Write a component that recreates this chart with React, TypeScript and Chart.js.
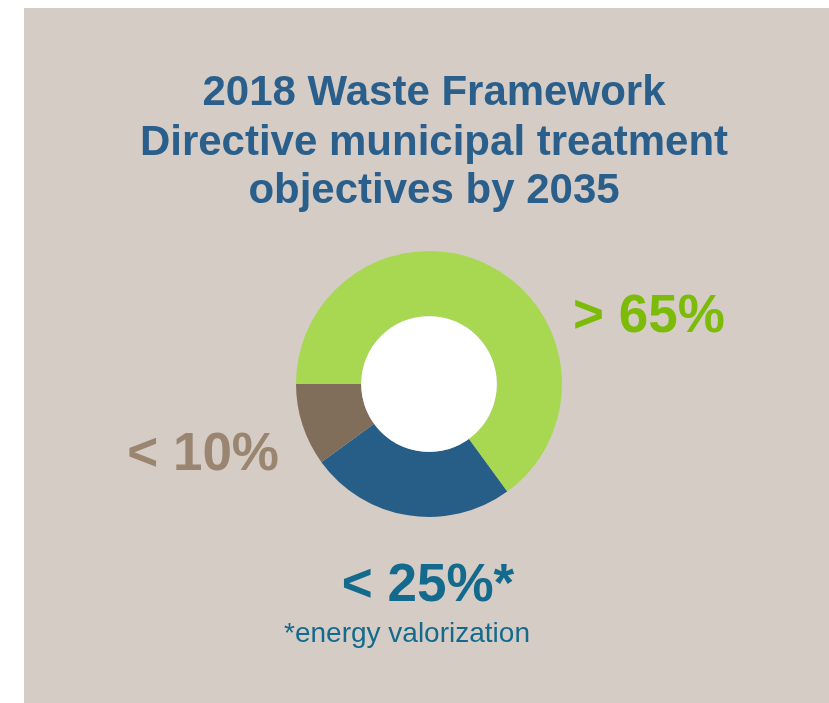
import React, { useEffect, useRef } from "react";
import { Chart, registerables } from "chart.js";

Chart.register(...registerables);

const categories = ["Recycling", "Energy valorization", "Landfill"];
const values = [65, 25, 10];
const sliceColors = ["#a8d851", "#265e87", "#806e5a"];
const valueLabels = ["> 65%", "< 25%*", "< 10%"];
const labelColors = ["#7cbc08", "#136a8c", "#9a8570"];
const titleLines = ["2018 Waste Framework", "Directive municipal treatment", "objectives by 2035"];
const footnote = "*energy valorization";

const FONT = '"Liberation Sans", Arial, sans-serif';

const textPlugin = {
  id: "textPlugin",
  afterDatasetsDraw(chart: any) {
    const ctx = chart.ctx;
    const meta = chart.getDatasetMeta(0);
    const arc = meta.data[0];
    if (!arc) return;
    const cx = arc.x;
    const cy = arc.y;
    const inner = arc.innerRadius;
    ctx.save();
    // white hole
    ctx.beginPath();
    ctx.arc(cx, cy, inner, 0, Math.PI * 2);
    ctx.fillStyle = "#ffffff";
    ctx.fill();

    // title
    ctx.fillStyle = "#2b5f8b";
    ctx.font = `bold 42px ${FONT}`;
    ctx.textAlign = "center";
    ctx.textBaseline = "alphabetic";
    const tx = cx + 5;
    const baselines = [97, 147, 195];
    titleLines.forEach((l, i) => ctx.fillText(l, tx, baselines[i]));

    // value labels
    ctx.font = `bold 53px ${FONT}`;
    ctx.fillStyle = labelColors[0];
    ctx.textAlign = "left";
    ctx.fillText(valueLabels[0], cx + 144, cy - 52);

    ctx.fillStyle = labelColors[2];
    ctx.textAlign = "right";
    ctx.fillText(valueLabels[2], cx - 150, cy + 86);

    ctx.fillStyle = labelColors[1];
    ctx.textAlign = "center";
    ctx.fillText(valueLabels[1], cx - 1, cy + 217);

    ctx.font = `28px ${FONT}`;
    ctx.fillText(footnote, cx - 22, cy + 258);
    ctx.restore();
  },
};

export default function App() {
  const ref = useRef<HTMLCanvasElement>(null);
  useEffect(() => {
    if (!ref.current) return;
    const chart = new Chart(ref.current, {
      type: "doughnut",
      data: {
        labels: categories,
        datasets: [
          {
            data: values,
            backgroundColor: sliceColors,
            borderWidth: 0,
          },
        ],
      },
      options: {
        responsive: false,
        animation: false,
        events: [],
        rotation: 270,
        cutout: "51%",
        layout: { padding: { left: 272, right: 267, top: 243, bottom: 186 } },
        plugins: {
          legend: { display: false },
          tooltip: { enabled: false },
          title: { display: false },
        },
      },
      plugins: [textPlugin],
    });
    return () => chart.destroy();
  }, []);
  return (
    <div
      style={{
        position: "fixed",
        left: 24,
        top: 8,
        width: 805,
        height: 695,
        background: "#d5ccc5",
      }}
    >
      <canvas ref={ref} width={805} height={695} style={{ display: "block" }} />
    </div>
  );
}
